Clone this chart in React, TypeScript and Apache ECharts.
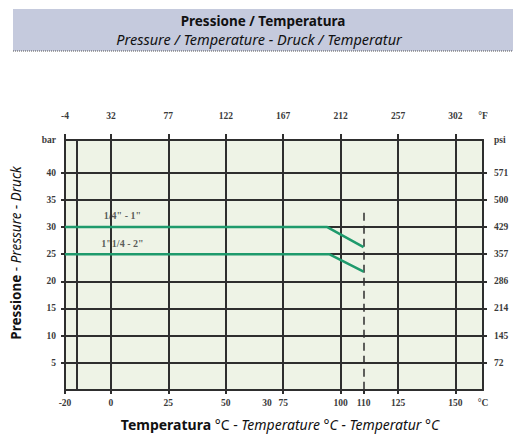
import React, { useEffect, useRef } from 'react';
import * as echarts from 'echarts';

const tempLabelValuesC = [-20, 0, 25, 50, 68, 75, 100, 110, 125, 150, 162];
const tempLabelsC = ['-20', '0', '25', '50', '30', '75', '100', '110', '125', '150', '°C'];
const tempTickValuesC = [-20, 0, 25, 50, 75, 100, 110, 125, 150];
const tempLabelValuesF = [-20, 0, 25, 50, 75, 100, 125, 150, 162];
const tempLabelsF = ['-4', '32', '77', '122', '167', '212', '257', '302', '°F'];
const tempTickValuesF = [-20, 0, 25, 50, 75, 100, 125, 150];
const barLabelValues = [5, 10, 15, 20, 25, 30, 35, 40, 46];
const barLabels = ['5', '10', '15', '20', '25', '30', '35', '40', 'bar'];
const psiLabels = ['72', '145', '214', '286', '357', '429', '500', '571', 'psi'];
const gridTempC = [-15, 0, 25, 50, 75, 100, 125, 150];
const gridBar = [5, 10, 15, 20, 25, 30, 35, 40];

const seriesNames = ['1/4" - 1"', '1"1/4 - 2"'];
const seriesSmall = [[-20, 30], [94, 30], [110, 26.3]];
const seriesLarge = [[-20, 25], [95, 25], [110, 21.8]];
const seriesLabelPos = [[5, 32.2], [5, 27.0]];
const limitTemp = 110;
const limitTop = 32.6;

const X_MIN = -20;
const X_MAX = 162;
const Y_MIN = 0;
const Y_MAX = 46;

const GRID_COLOR = '#2e2e2e';
const GREEN = '#1e9a6c';
const LABEL_FONT = { fontFamily: 'Liberation Serif', fontSize: 9.5, fontWeight: 'bold' as const, color: '#3a3a3a' };

export default function App() {
  const ref = useRef<HTMLDivElement>(null);
  useEffect(() => {
    if (!ref.current) return;
    const chart = echarts.init(ref.current, null, { renderer: 'svg' });
    const fmt = (vals: number[], labels: string[]) => (v: number) => {
      const i = vals.findIndex((x) => Math.abs(x - v) < 1e-6);
      return i >= 0 ? labels[i] : '';
    };
    const option: any = {
      animation: false,
      backgroundColor: '#ffffff',
      grid: {
        left: 65,
        right: 30,
        top: 140,
        bottom: 45,
        show: true,
        backgroundColor: '#eef3e6',
        borderWidth: 0,
      },
      graphic: [
        { type: 'rect', shape: { x: 13, y: 9, width: 500, height: 42 }, style: { fill: '#c5cadd' }, z: 0 },
        { type: 'line', shape: { x1: 13, y1: 51, x2: 513, y2: 51 }, style: { stroke: '#555', lineWidth: 1, lineDash: [1, 1] } },
        {
          type: 'text', x: 263, y: 21,
          style: { text: 'Pressione / Temperatura', fontFamily: 'Noto Sans', fontWeight: 'bold', fontSize: 13.5, lineHeight: 13, fill: '#111', align: 'center', verticalAlign: 'middle' },
        },
        {
          type: 'text', x: 259, y: 38.5,
          style: { text: 'Pressure / Temperature - Druck / Temperatur', fontFamily: 'Noto Sans', fontStyle: 'italic', fontSize: 14.5, lineHeight: 13, fill: '#111', align: 'center', verticalAlign: 'middle' },
        },
        {
          type: 'text', x: 16, y: 253, rotation: Math.PI / 2,
          style: {
            text: '{b|Pressione} - {i|Pressure - Druck}',
            align: 'center', verticalAlign: 'middle',
            rich: {
              b: { fontFamily: 'Noto Sans', fontWeight: 'bold', fontSize: 13.5, fill: '#111' },
              i: { fontFamily: 'Noto Sans', fontStyle: 'italic', fontSize: 13.5, fill: '#111' },
            },
            fontFamily: 'Noto Sans', fontSize: 13.5, fill: '#111',
          },
        },
        {
          type: 'text', x: 280, y: 424,
          style: {
            text: '{b|Temperatura} °C - {i|Temperature °C - Temperatur °C}',
            align: 'center', verticalAlign: 'middle',
            rich: {
              b: { fontFamily: 'Noto Sans', fontWeight: 'bold', fontSize: 14, fill: '#111' },
              i: { fontFamily: 'Noto Sans', fontStyle: 'italic', fontSize: 14, fill: '#111' },
            },
            fontFamily: 'Noto Sans', fontSize: 14, fill: '#111',
          },
        },
      ],
      xAxis: [
        {
          type: 'value', position: 'bottom', min: X_MIN, max: X_MAX,
          splitLine: { show: false },
          axisLine: { show: true, onZero: false, lineStyle: { color: GRID_COLOR, width: 2 } },
          axisTick: { show: true, customValues: tempTickValuesC, length: 4, lineStyle: { color: GRID_COLOR, width: 2 } },
          axisLabel: { show: true, customValues: tempLabelValuesC, formatter: fmt(tempLabelValuesC, tempLabelsC), margin: 8, ...LABEL_FONT },
        },
        {
          type: 'value', position: 'top', min: X_MIN, max: X_MAX,
          splitLine: { show: false },
          axisLine: { show: true, onZero: false, lineStyle: { color: GRID_COLOR, width: 2 } },
          axisTick: { show: true, customValues: tempTickValuesF, length: 6, lineStyle: { color: GRID_COLOR, width: 2 } },
          axisLabel: { show: true, customValues: tempLabelValuesF, formatter: fmt(tempLabelValuesF, tempLabelsF), margin: 19, ...LABEL_FONT },
        },
      ],
      yAxis: [
        {
          type: 'value', position: 'left', min: Y_MIN, max: Y_MAX,
          splitLine: { show: false },
          axisLine: { show: true, onZero: false, lineStyle: { color: GRID_COLOR, width: 2 } },
          axisTick: { show: true, customValues: gridBar, length: 4, lineStyle: { color: GRID_COLOR, width: 2 } },
          axisLabel: { show: true, customValues: barLabelValues, formatter: fmt(barLabelValues, barLabels), margin: 9, ...LABEL_FONT },
        },
        {
          type: 'value', position: 'right', min: Y_MIN, max: Y_MAX,
          splitLine: { show: false },
          axisLine: { show: true, onZero: false, lineStyle: { color: GRID_COLOR, width: 2 } },
          axisTick: { show: true, customValues: gridBar, length: 4, lineStyle: { color: GRID_COLOR, width: 2 } },
          axisLabel: { show: true, customValues: barLabelValues, formatter: fmt(barLabelValues, psiLabels), margin: 11, align: 'left', ...LABEL_FONT },
        },
      ],
      series: [
        {
          type: 'line', name: 'grid', xAxisIndex: 0, yAxisIndex: 0, data: [], silent: true,
          markLine: {
            symbol: 'none', silent: true, animation: false,
            label: { show: false },
            lineStyle: { color: GRID_COLOR, width: 2, type: 'solid' },
            data: [
              ...gridTempC.map((v) => ({ xAxis: v })),
              ...gridBar.map((v) => ({ yAxis: v })),
            ],
          },
        },
        {
          type: 'line', name: 'limit', xAxisIndex: 0, yAxisIndex: 0, data: [], silent: true,
          markLine: {
            symbol: 'none', silent: true, animation: false,
            label: { show: false },
            lineStyle: { color: GRID_COLOR, width: 1.5, type: [8, 5] },
            data: [[{ coord: [limitTemp, limitTop] }, { coord: [limitTemp, Y_MIN] }]],
          },
        },
        {
          type: 'line', name: seriesNames[0], data: seriesSmall, showSymbol: false, z: 5,
          lineStyle: { color: GREEN, width: 2.5 }, itemStyle: { color: GREEN },
        },
        {
          type: 'line', name: seriesNames[1], data: seriesLarge, showSymbol: false, z: 5,
          lineStyle: { color: GREEN, width: 2.5 }, itemStyle: { color: GREEN },
        },
        {
          type: 'scatter', name: 'labels', symbolSize: 0, z: 6,
          data: seriesLabelPos.map((p, i) => ({ value: p, name: seriesNames[i] })),
          label: { show: true, position: 'inside', formatter: (p: any) => p.name, ...LABEL_FONT, fontSize: 10, color: '#333' },
        },
      ],
    };
    chart.setOption(option);
    return () => chart.dispose();
  }, []);
  return <div ref={ref} style={{ position: 'fixed', left: 0, top: 0, width: 513, height: 435 }} />;
}
